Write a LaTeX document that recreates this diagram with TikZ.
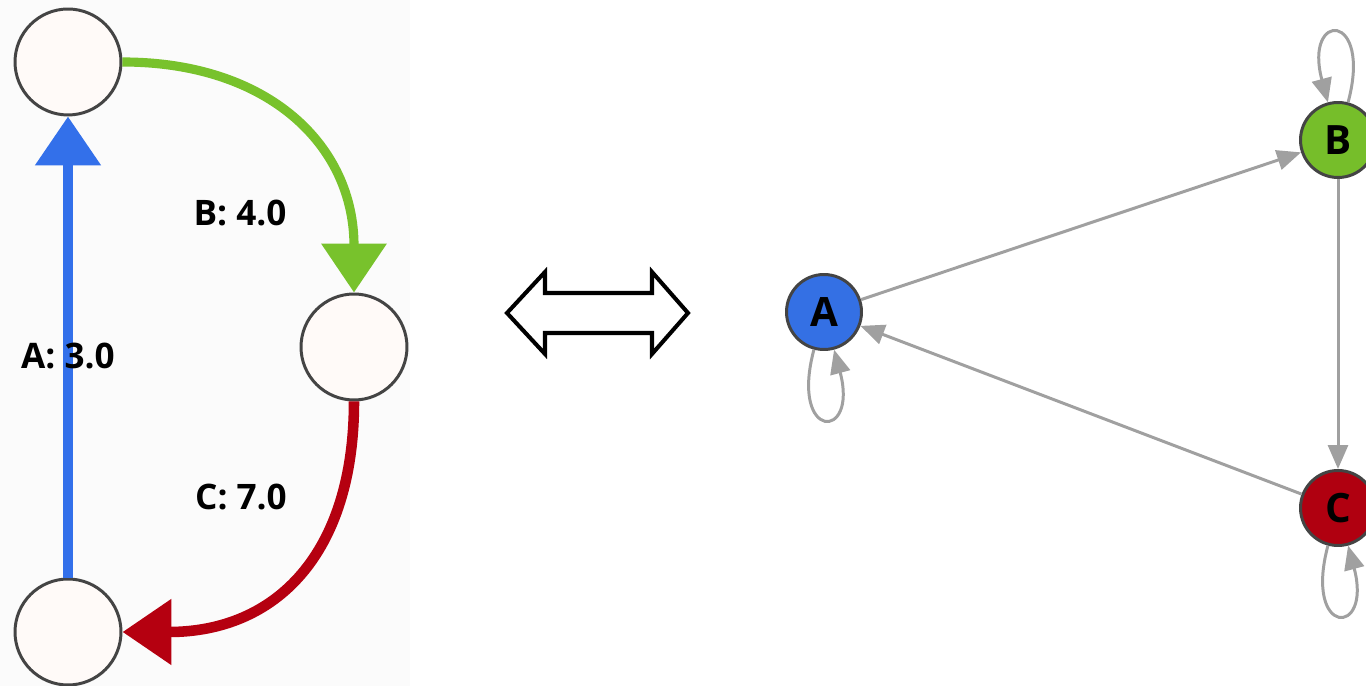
\documentclass[tikz,border=0pt]{standalone}
\usepackage{fontspec}
\setmainfont{Open Sans}
\usepackage{tikz}
\usetikzlibrary{arrows.meta}

\definecolor{flowblue}{RGB}{51,112,234}
\definecolor{flowgreen}{RGB}{120,194,44}
\definecolor{flowred}{RGB}{181,0,16}
\definecolor{nodeblue}{RGB}{52,112,228}
\definecolor{nodegreen}{RGB}{118,190,42}
\definecolor{nodered}{RGB}{176,0,16}
\definecolor{rim}{RGB}{68,68,68}
\definecolor{petal}{RGB}{255,250,248}
\definecolor{wire}{RGB}{160,160,160}

\begin{document}
\begin{tikzpicture}[x=0.02cm, y=0.02cm,
  every node/.style={font=\bfseries\fontsize{20}{24}\selectfont, text=black},
  bare/.style={circle, draw=rim, fill=petal, line width=1.7pt, minimum size=2.12cm, inner sep=0pt},
  vert/.style={circle, draw=rim, line width=1.7pt, minimum size=1.5cm, inner sep=0pt,
    font=\bfseries\fontsize{23}{26}\selectfont},
  flow/.style={line width=6pt, -{Triangle[length=0.98cm, width=1.27cm]}},
  link/.style={draw=wire, line width=1.7pt, -{Triangle[length=0.48cm, width=0.4cm]}}]
  \useasboundingbox (0,0) rectangle (1366,686);
  \fill[black!1.5] (0,0) rectangle (410,686);

  \node[bare] (top) at (68,624) {};
  \node[bare] (mid) at (354,339) {};
  \node[bare] (bot) at (68,54) {};
  \draw[flow, flowblue] (bot) -- (top) node[midway, yshift=-0.18cm] (wA) {A: 3.0};
  \draw[flow, flowgreen, line width=5.2pt] (top) to[out=0, in=90, looseness=1.15] (mid);
  \draw[flow, flowred] (mid) to[out=-90, in=0, looseness=1.2] (bot);
  \node (wB) at (240,473) {B: 4.0};
  \node (wC) at (241,189) {C: 7.0};

  \draw[black, fill=white, line width=2.3pt, miter limit=10]
    (507,373) -- (545,414) -- (545,393) -- (652,393) -- (652,414) -- (688,373)
    -- (652,332) -- (652,353) -- (545,353) -- (545,332) -- cycle;

  \node[vert, fill=nodeblue] (A) at (824,374) {A};
  \node[vert, fill=nodegreen] (B) at (1338,546) {B};
  \node[vert, fill=nodered] (C) at (1338,178) {C};
  \draw[link] (A) -- (B);
  \draw[link] (B) -- (C);
  \draw[link] (C) -- (A);
  \draw[link] (A) to[out=-105, in=-75, distance=1.9cm] (A);
  \draw[link] (B) to[out=75, in=105, distance=1.9cm] (B);
  \draw[link] (C) to[out=-105, in=-75, distance=1.9cm] (C);
\end{tikzpicture}
\end{document}
